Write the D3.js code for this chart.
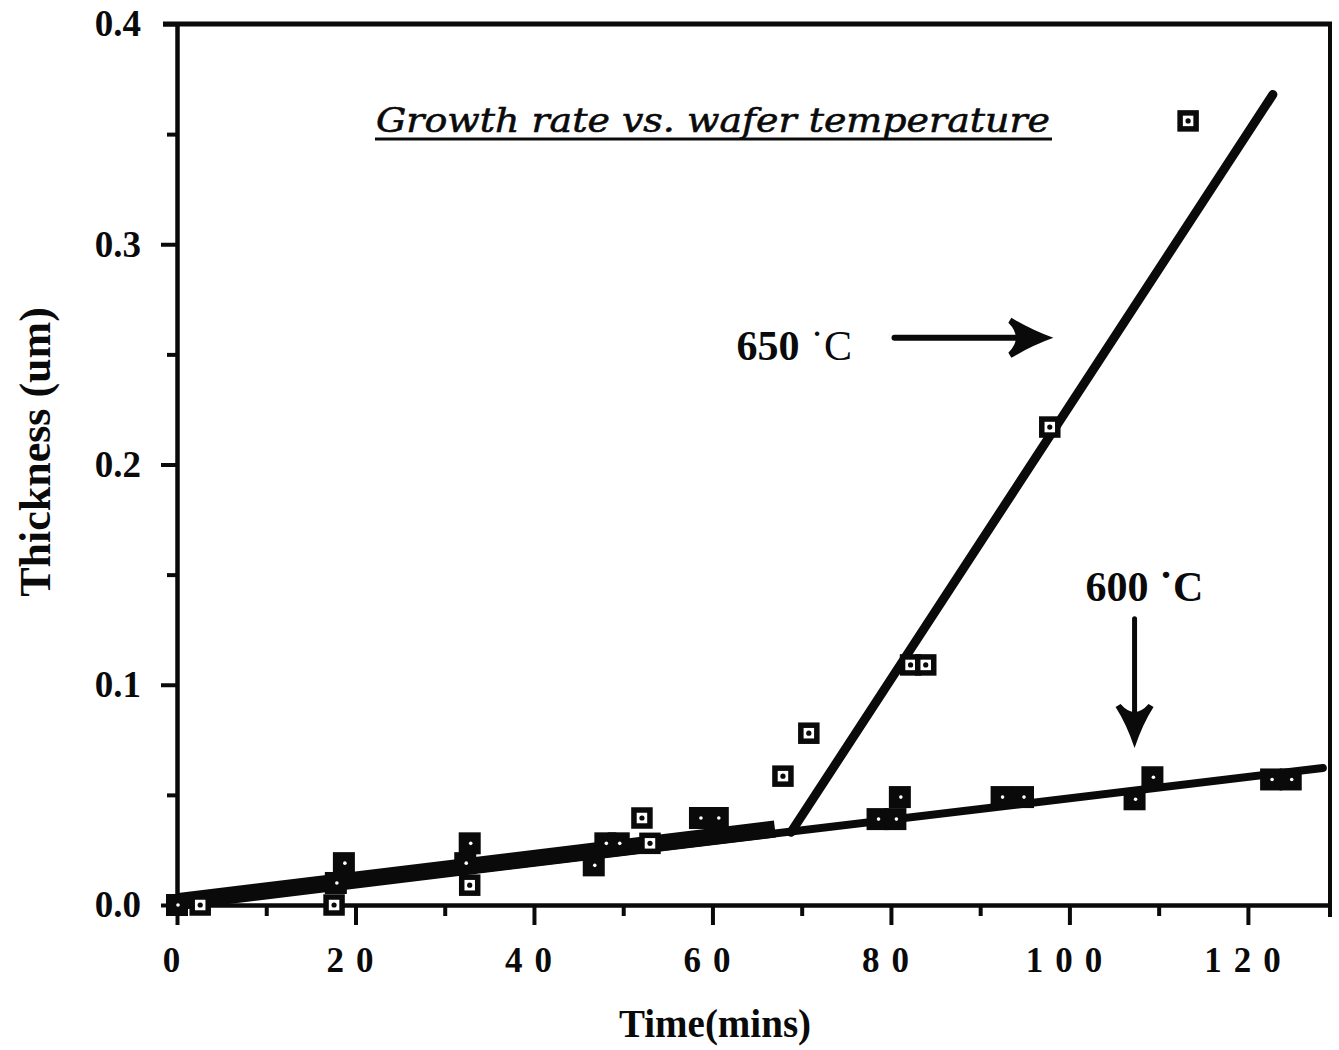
<!DOCTYPE html>
<html>
<head>
<meta charset="utf-8">
<script src="https://cdn.jsdelivr.net/npm/d3@7"></script>
<style>
  html, body { margin: 0; padding: 0; background: #fff; }
  svg { display: block; }
</style>
</head>
<body>
<svg id="chart" width="1339" height="1050"></svg>
<script>
// Film thickness measured against deposition time at two wafer temperatures.
const times600  = [0, 17.8, 18.7, 32.3, 32.8, 46.7, 48.0, 49.5, 58.6, 60.6, 78.5, 80.5, 81.0, 92.4, 94.8, 107.3, 109.3, 122.6, 124.8];
const values600 = [0, 0.010, 0.019, 0.019, 0.028, 0.018, 0.028, 0.028, 0.0395, 0.0395, 0.039, 0.039, 0.049, 0.049, 0.049, 0.048, 0.058, 0.057, 0.057];

const times650  = [2.6, 17.6, 32.8, 52.1, 53.0, 67.9, 70.8, 82.2, 83.9, 97.8, 113.3];
const values650 = [0, 0, 0.009, 0.0395, 0.028, 0.0585, 0.078, 0.109, 0.109, 0.217, 0.356];

// Fitted growth lines
const fit600Times  = [0, 128.4];
const fit600Values = [0, 0.0622];
const fit650EarlyTimes  = [0, 67];
const fit650EarlyValues = [0.0015, 0.0345];
const fit650SteepTimes  = [68.8, 122.8];
const fit650SteepValues = [0.033, 0.368];

const xMajorTicks = [0, 20, 40, 60, 80, 100, 120];
const xMinorTicks = [10, 30, 50, 70, 90, 110];
const yMajorTicks = [0, 0.1, 0.2, 0.3, 0.4];
const yMinorTicks = [0.05, 0.15, 0.25, 0.35];

const titleText = "Growth rate vs. wafer temperature";
const xTitle = "Time(mins)";
const yTitle = "Thickness (um)";
const label650 = ["650", " \u02D9C"];
const label600 = ["600", " \u02D9C"];

const svg = d3.select("#chart");
const ink = "#0a0a0a";
const serif = "'Liberation Serif', 'Times New Roman', serif";

const x = d3.scaleLinear().domain([0, 129.2]).range([177, 1330]);
const y = d3.scaleLinear().domain([0, 0.4]).range([905, 24]);

// Frame: top and right edges
svg.append("line").attr("x1", 163).attr("x2", x(129.2) + 2).attr("y1", y(0.4)).attr("y2", y(0.4))
  .attr("stroke", ink).attr("stroke-width", 5);
svg.append("line").attr("x1", x(129.2)).attr("x2", x(129.2)).attr("y1", y(0.4)).attr("y2", y(0) + 12)
  .attr("stroke", ink).attr("stroke-width", 4);

// Axes
function styleAxis(g) {
  g.select(".domain").attr("stroke", ink).attr("stroke-width", 4);
  g.selectAll(".tick line").attr("stroke", ink).attr("stroke-width", 4);
}

const xAxisMinor = svg.append("g").attr("transform", `translate(0,${y(0)})`)
  .call(d3.axisBottom(x).tickValues(xMinorTicks).tickSize(11).tickSizeOuter(0).tickFormat(""));
styleAxis(xAxisMinor);

const xLetterSpace = 12;
const xAxis = svg.append("g").attr("transform", `translate(0,${y(0)})`)
  .call(d3.axisBottom(x).tickValues(xMajorTicks).tickSize(20).tickSizeOuter(0).tickPadding(22)
    .tickFormat(d => String(d)));
styleAxis(xAxis);
xAxis.selectAll(".tick text")
  .attr("font-family", serif).attr("font-weight", "bold").attr("font-size", 35)
  .attr("fill", ink)
  .attr("letter-spacing", xLetterSpace)
  .attr("dx", xLetterSpace / 2 - 6);

const yAxisMinor = svg.append("g").attr("transform", `translate(${x(0)},0)`)
  .call(d3.axisLeft(y).tickValues(yMinorTicks).tickSize(10).tickSizeOuter(0).tickFormat(""));
styleAxis(yAxisMinor);

const yAxis = svg.append("g").attr("transform", `translate(${x(0)},0)`)
  .call(d3.axisLeft(y).tickValues(yMajorTicks).tickSize(16).tickSizeOuter(0).tickPadding(20)
    .tickFormat(d3.format(".1f")));
styleAxis(yAxis);
yAxis.selectAll(".tick text")
  .attr("font-family", serif).attr("font-weight", "bold").attr("font-size", 37)
  .attr("fill", ink);
yAxis.selectAll(".tick").filter(d => d === 0.4).select("line").attr("x2", -14);

// Fit lines
const line = d3.line().x(d => x(d[0])).y(d => y(d[1]));
function drawFit(ts, vs, w, cap) {
  svg.append("path").datum(ts.map((t, i) => [t, vs[i]]))
    .attr("d", line).attr("fill", "none").attr("stroke", ink)
    .attr("stroke-width", w).attr("stroke-linecap", cap);
}
drawFit(fit600Times, fit600Values, 8, "round");
drawFit(fit650EarlyTimes, fit650EarlyValues, 17, "butt");
drawFit(fit650SteepTimes, fit650SteepValues, 9, "round");

// 600 C measurements: solid squares with a pin-hole centre
const pts600 = times600.map((t, i) => [t, values600[i]]);
const g600 = svg.append("g");
g600.selectAll("rect").data(pts600).join("rect")
  .attr("x", d => x(d[0]) - 11).attr("y", d => y(d[1]) - 11)
  .attr("width", 22).attr("height", 22).attr("fill", ink);
g600.selectAll("circle").data(pts600).join("circle")
  .attr("cx", d => x(d[0]) + 1).attr("cy", d => y(d[1]))
  .attr("r", 1.8).attr("fill", "#fff");

// 650 C measurements: open squares with a centre dot
const pts650 = times650.map((t, i) => [t, values650[i]]);
const g650 = svg.append("g");
g650.selectAll("rect").data(pts650).join("rect")
  .attr("x", d => x(d[0]) - 8).attr("y", d => y(d[1]) - 8)
  .attr("width", 16).attr("height", 16)
  .attr("fill", "#fff").attr("stroke", ink).attr("stroke-width", 5.5);
g650.selectAll("circle").data(pts650).join("circle")
  .attr("cx", d => x(d[0])).attr("cy", d => y(d[1]))
  .attr("r", 2.6).attr("fill", ink);

// Title, underlined
svg.append("text")
  .attr("x", 376).attr("y", 132)
  .attr("font-family", "'DejaVu Serif', serif").attr("font-style", "italic")
  .attr("font-size", 34).attr("fill", ink)
  .attr("stroke", ink).attr("stroke-width", 0.6)
  .attr("textLength", 674).attr("lengthAdjust", "spacingAndGlyphs")
  .text(titleText);
svg.append("line").attr("x1", 375).attr("x2", 1052).attr("y1", 139).attr("y2", 139)
  .attr("stroke", ink).attr("stroke-width", 3);

// Axis titles
svg.append("text")
  .attr("x", 715).attr("y", 1037).attr("text-anchor", "middle")
  .attr("font-family", serif).attr("font-weight", "bold").attr("font-size", 39)
  .attr("fill", ink).text(xTitle);
svg.append("text")
  .attr("transform", `translate(50,452) rotate(-90)`).attr("text-anchor", "middle")
  .attr("font-family", serif).attr("font-weight", "bold").attr("font-size", 44)
  .attr("fill", ink).text(yTitle);

// Temperature annotations
function tempLabel(parts, t, v, cWeight) {
  const txt = svg.append("text").attr("x", x(t)).attr("y", y(v))
    .attr("font-family", serif).attr("font-size", 42).attr("fill", ink);
  txt.append("tspan").attr("font-weight", "bold").text(parts[0]);
  txt.append("tspan").attr("font-weight", cWeight).text(parts[1]);
}
tempLabel(label650, 62.7, 0.2474, "normal");
tempLabel(label600, 101.8, 0.138, "bold");

// Arrow toward the 650 C line
const ax0 = x(80.4), ax1 = x(98.2), ay = y(0.2575);
svg.append("line").attr("x1", ax0).attr("x2", ax1 - 16).attr("y1", ay).attr("y2", ay)
  .attr("stroke", ink).attr("stroke-width", 6).attr("stroke-linecap", "round");
svg.append("path")
  .attr("d", `M${ax1},${ay} Q${ax1 - 22},${ay - 8} ${ax1 - 42},${ay - 20}
              L${ax1 - 45},${ay - 15} Q${ax1 - 30},${ay} ${ax1 - 45},${ay + 15}
              L${ax1 - 42},${ay + 20} Q${ax1 - 22},${ay + 8} ${ax1},${ay} Z`)
  .attr("fill", ink);

// Arrow toward the 600 C line
const bx = x(107.3), by0 = y(0.130), by1 = y(0.0713);
svg.append("line").attr("x1", bx).attr("x2", bx).attr("y1", by0).attr("y2", by1 - 20)
  .attr("stroke", ink).attr("stroke-width", 5).attr("stroke-linecap", "round");
svg.append("path")
  .attr("d", `M${bx},${by1} Q${bx - 8},${by1 - 24} ${bx - 19},${by1 - 41}
              L${bx - 14},${by1 - 44} Q${bx},${by1 - 28} ${bx + 14},${by1 - 44}
              L${bx + 19},${by1 - 41} Q${bx + 8},${by1 - 24} ${bx},${by1} Z`)
  .attr("fill", ink);
</script>
</body>
</html>
